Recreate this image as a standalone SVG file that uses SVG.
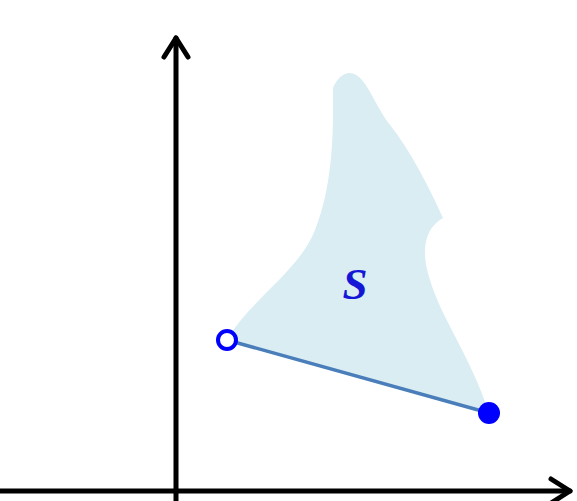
<svg xmlns="http://www.w3.org/2000/svg" width="577" height="501" viewBox="0 0 577 501">
<style>
.axis{stroke:#000;stroke-width:5;fill:none;stroke-linecap:round;stroke-linejoin:round}
.lbl{font-family:"Liberation Serif",serif;font-style:italic;font-weight:bold;fill:#1515d6}
</style>
<rect width="577" height="501" fill="#fff"/>
<g id="region">
<path d="M227,340 C250,300 300,270 315,230 C335,180 333,120 333,88 C340,72 352,68 362,80 C372,92 378,110 390,125 C410,150 428,185 443,218 C425,228 420,250 430,280 C442,320 470,355 489,413 Z" fill="#daedf3"/>
<text class="lbl" x="355" y="299" font-size="45" text-anchor="middle">S</text>
</g>
<g id="connectors">
<line x1="227" y1="340" x2="489" y2="413" stroke="#4a7ebb" stroke-width="3.5"/>
</g>
<g id="axes">
<line class="axis" x1="176" y1="501" x2="176" y2="38"/>
<polyline class="axis" points="164,57 176,38 188,57"/>
<line class="axis" x1="0" y1="491" x2="570" y2="491"/>
<polyline class="axis" points="551,479 570,491 551,503"/>
</g>
<g id="endpoints">
<circle cx="227" cy="340" r="9" fill="#fff" stroke="#0000ff" stroke-width="4"/>
<circle cx="489" cy="413" r="11" fill="#0000ff"/>
</g>
</svg>
